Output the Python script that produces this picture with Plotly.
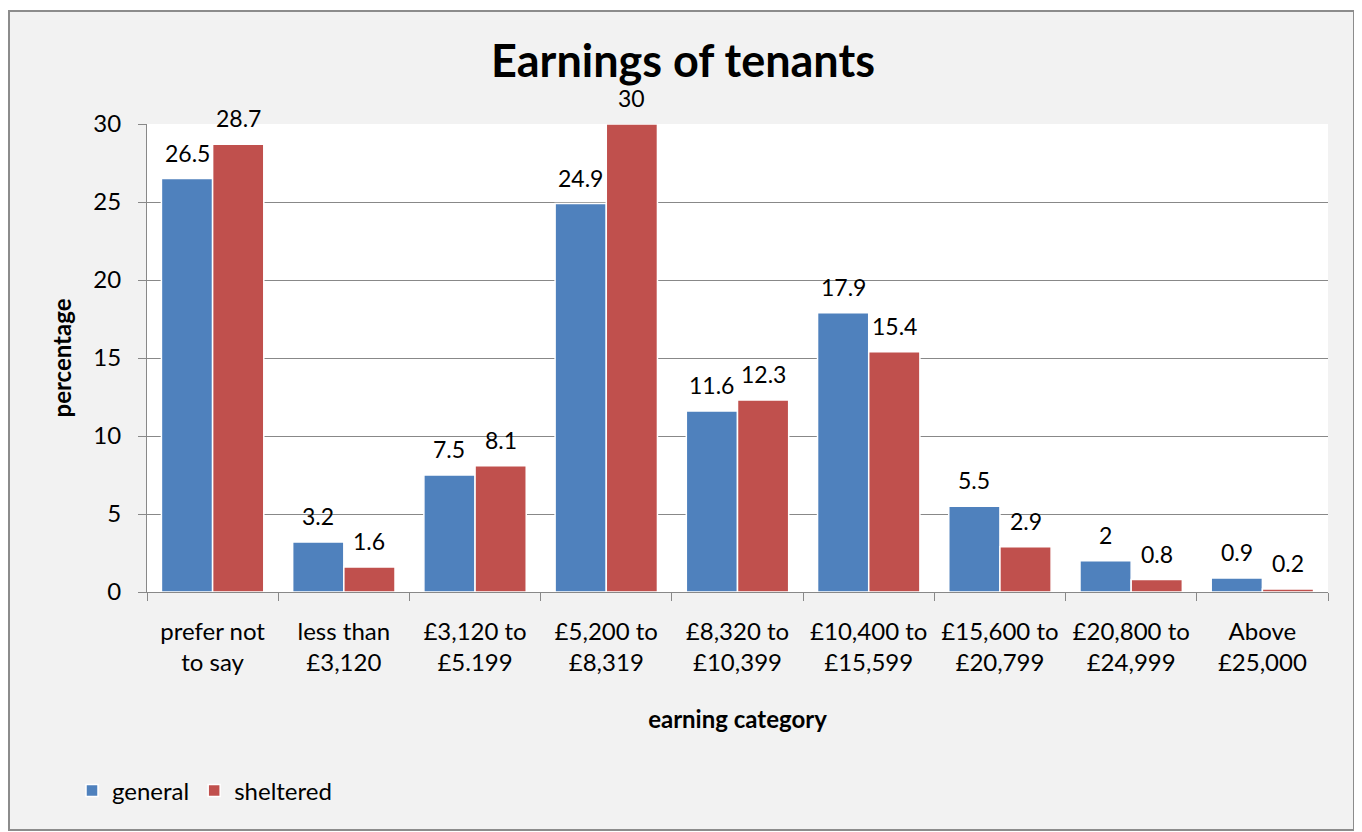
import plotly.graph_objects as go

categories = ["prefer not<br>to say", "less than<br>£3,120", "£3,120 to<br>£5.199", "£5,200 to<br>£8,319",
              "£8,320 to<br>£10,399", "£10,400 to<br>£15,599", "£15,600 to<br>£20,799",
              "£20,800 to<br>£24,999", "Above<br>£25,000"]
general = [26.5, 3.2, 7.5, 24.9, 11.6, 17.9, 5.5, 2, 0.9]
sheltered = [28.7, 1.6, 8.1, 30, 12.3, 15.4, 2.9, 0.8, 0.2]
y_ticks = [0, 5, 10, 15, 20, 25, 30]

FONT = "Lato"
OFF = 8  # browser body margin
W, H = 1362, 832
L, T = 147 - OFF, 124 - OFF
R = W - (1328 - OFF)
B = H - (592 - OFF)
pw, ph = W - L - R, H - T - B
BARGAP = 0.22

def px_x(p):  # page x -> paper
    return (p - OFF - L) / pw

def px_y(p):  # page y -> paper
    return (H - B - (p - OFF)) / ph

series = [("general", general, "#4F81BD"), ("sheltered", sheltered, "#C0504D")]

fig = go.Figure()
for name, vals, col in series:
    fig.add_trace(go.Bar(
        name=name, x=categories, y=vals,
        marker=dict(color=col, line=dict(color="white", width=1.5)),
        cliponaxis=False,
    ))

bar_w = pw / len(categories) * (1 - BARGAP) / len(series)
annotations = []
for i, (name, vals, col) in enumerate(series):
    shift = (i - (len(series) - 1) / 2) * bar_w
    for c, v in zip(categories, vals):
        annotations.append(dict(x=c, y=v, xref="x", yref="y", text=f"{v:g}", showarrow=False,
                                xshift=shift, yshift=26, yanchor="middle",
                                font=dict(family=FONT, size=23, color="black")))

fig.update_layout(
    width=W, height=H,
    margin=dict(l=L, r=R, t=T, b=B),
    paper_bgcolor="white", plot_bgcolor="white",
    barmode="group", bargap=BARGAP, bargroupgap=0.0,
    font=dict(family=FONT, size=24, color="black"),
    title=dict(text="<b>Earnings of tenants</b>", x=(683 - OFF) / W, xref="container", xanchor="center",
               y=1 - (61 - OFF) / H, yref="container", yanchor="middle",
               font=dict(family=FONT, size=45, color="black")),
    showlegend=True,
    legend=dict(orientation="h", x=px_x(72), xref="paper", y=px_y(791), yref="paper",
                xanchor="left", yanchor="middle", font=dict(family=FONT, size=24),
                bgcolor="rgba(0,0,0,0)", itemwidth=30, traceorder="normal"),
    annotations=annotations,
)
fig.update_yaxes(range=[0, 30], tickvals=y_ticks, showgrid=True, gridcolor="#888888", gridwidth=1,
                 showline=True, linecolor="#888888", linewidth=1, ticks="outside", ticklen=8,
                 tickcolor="#888888", tickfont=dict(family=FONT, size=24), zeroline=False,
                 ticklabelstandoff=12,
                 title=dict(text="<b>percentage</b>", font=dict(family=FONT, size=24), standoff=14))
fig.update_xaxes(showline=True, linecolor="#888888", linewidth=1, ticks="outside", ticklen=8,
                 tickcolor="#888888", tickson="boundaries", tickfont=dict(family=FONT, size=24),
                 ticklabelstandoff=18,
                 title=dict(text="<b>earning category</b>", font=dict(family=FONT, size=24), standoff=36))

fig.add_shape(type="rect", xref="paper", yref="paper", x0=px_x(9), x1=px_x(1354), y0=px_y(830), y1=px_y(11),
              fillcolor="#F2F2F2", line=dict(color="#8C8C8C", width=2), layer="below")
fig.add_shape(type="rect", xref="paper", yref="paper", x0=0, x1=1, y0=0, y1=1,
              fillcolor="white", line=dict(width=0), layer="below")

fig.write_html("out.html")
